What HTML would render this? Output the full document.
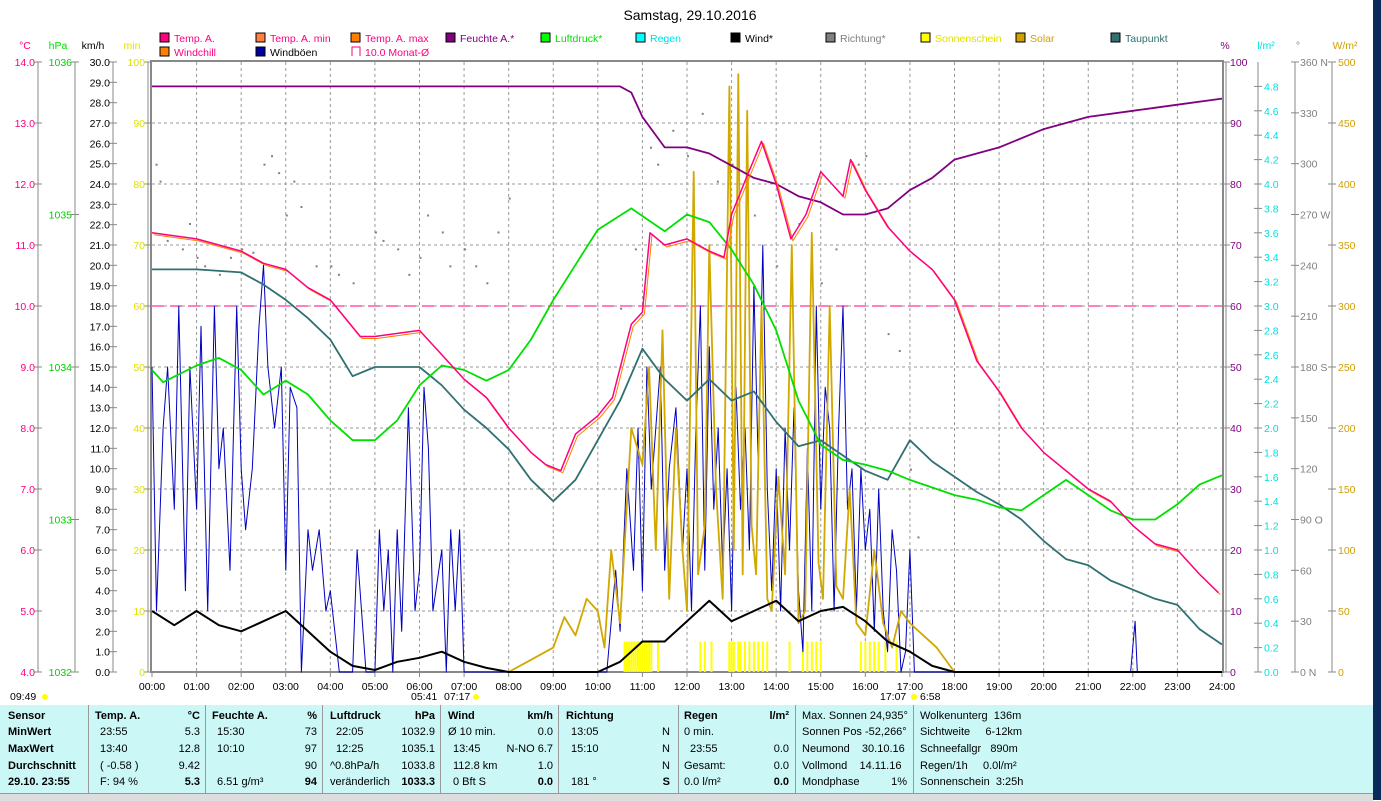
<!DOCTYPE html>
<html><head><meta charset="utf-8">
<style>
body{margin:0;width:1381px;height:800px;overflow:hidden;background:#fff;font-family:"Liberation Sans",sans-serif;}
#chart{position:absolute;left:0;top:0;}
#tbl{position:absolute;left:0;top:705px;width:1373px;height:88px;background:#ccf7f7;font-size:11px;}
#tbl .c{position:absolute;top:0;height:88px;border-right:1px solid #999;}
#tbl .t{position:absolute;white-space:nowrap;}
#tbl b{font-weight:bold}
#foot{position:absolute;left:0;top:793px;width:1373px;height:7px;background:#ddd;border-top:1px solid #999;}
#edge{position:absolute;left:1373px;top:0;width:8px;height:800px;background:#0a2a5a;}
</style></head><body>
<svg id="chart" width="1381" height="800"></svg>
<div id="tbl"></div>
<div id="foot"></div>
<div id="edge"></div>
<script>
// ---------- DATA ----------
const tempT=[0,1,2,2.5,3,3.5,4,4.67,5,6,6.5,7,7.5,8,8.5,8.83,9.17,9.5,10,10.33,10.75,11,11.17,11.5,12,12.5,12.83,13,13.33,13.67,14,14.33,14.67,15,15.5,15.67,16,16.5,17,17.5,18,18.5,19,19.5,20,21,21.5,22,22.5,23,23.5,23.92];
const tempV=[11.2,11.1,10.9,10.7,10.6,10.3,10.1,9.5,9.5,9.6,9.2,8.8,8.5,8.0,7.6,7.4,7.3,7.9,8.2,8.5,9.7,9.9,11.2,11.0,11.1,10.9,10.8,11.5,12.1,12.7,12.0,11.1,11.5,12.2,11.8,12.4,11.9,11.3,10.9,10.6,10.1,9.1,8.6,8.0,7.6,7.0,6.8,6.4,6.1,6.0,5.6,5.3];
const humT=[0,10.5,10.75,11,11.5,12,12.5,13,13.5,14,14.5,15,15.5,16,16.5,17,17.5,18,19,20,21,22,23,24];
const humV=[96,96,95,91,86,86,85,83,81,80,78,77,75,75,76,79,81,84,86,89,91,92,93,94];
const presT=[0,0.25,1,1.5,2,2.5,3,3.5,4,4.5,5,5.5,6,6.5,7,7.5,8,8.5,9,9.5,10,10.75,11.5,12,12.5,13,13.5,14,14.5,15,15.5,16,16.5,17,17.5,18,18.5,19,19.5,20,20.5,21,21.5,22,22.5,23,23.5,24];
const presV=[1033.98,1033.9,1034.01,1034.06,1033.98,1033.82,1033.91,1033.82,1033.65,1033.52,1033.52,1033.65,1033.88,1034.01,1033.98,1033.91,1033.98,1034.18,1034.44,1034.67,1034.9,1035.04,1034.89,1035.0,1034.95,1034.77,1034.54,1034.24,1033.78,1033.49,1033.39,1033.36,1033.32,1033.26,1033.21,1033.16,1033.13,1033.08,1033.06,1033.16,1033.26,1033.16,1033.06,1033.0,1033.0,1033.1,1033.23,1033.29];
const dewT=[0,1,2,2.5,3,3.5,4,4.5,5,5.5,6,6.5,7,7.5,8,8.5,9,9.5,10,10.5,11,11.5,12,12.5,13,13.5,14,14.5,15,15.5,16,16.5,17,17.5,18,18.5,19,19.5,20,20.5,21,21.5,22,22.5,23,23.5,24];
const dewV=[10.6,10.6,10.55,10.35,10.1,9.8,9.45,8.85,9.0,9.0,9.0,8.7,8.3,8.0,7.65,7.15,6.8,7.15,7.8,8.45,9.3,8.8,8.45,8.8,8.45,8.6,8.1,7.7,7.8,7.55,7.3,7.15,7.8,7.45,7.2,6.95,6.75,6.5,6.15,5.85,5.75,5.5,5.35,5.2,5.1,4.7,4.45];
const windT=[0,0.5,1,1.5,2,2.5,3,3.5,4,4.5,5,5.5,6,6.5,7,7.5,8,10,10.5,11,11.5,12,12.5,13,13.5,14,14.5,15,15.5,16,16.5,17,17.5,18,24];
const windV=[3.0,2.3,3.0,2.3,2.0,2.5,3.0,2.0,1.0,0.3,0.1,0.5,0.7,1.0,0.5,0.2,0,0,0.5,1.5,1.5,2.5,3.5,2.5,3.0,3.5,2.5,3.0,3.2,2.5,1.5,1.0,0.3,0,0];
const gustT=[0,0.1,0.25,0.35,0.5,0.6,0.75,0.85,1,1.1,1.25,1.4,1.5,1.6,1.75,1.9,2,2.1,2.25,2.4,2.5,2.6,2.75,2.9,3,3.1,3.25,3.35,3.5,3.6,3.75,3.9,4,4.2,4.5,4.6,4.8,5,5.1,5.2,5.3,5.4,5.5,5.6,5.75,5.9,6,6.1,6.2,6.3,6.5,6.6,6.7,6.8,6.9,7,10.2,10.4,10.5,10.65,10.8,10.9,11,11.1,11.2,11.3,11.4,11.5,11.6,11.75,11.9,12,12.1,12.2,12.3,12.4,12.5,12.6,12.7,12.8,12.9,13,13.1,13.2,13.3,13.4,13.5,13.6,13.7,13.8,13.9,14,14.1,14.2,14.3,14.4,14.5,14.6,14.7,14.8,14.9,15,15.1,15.2,15.3,15.4,15.5,15.6,15.7,15.8,15.9,16,16.1,16.2,16.3,16.4,16.5,16.6,16.7,16.8,16.9,17,17.1,21.95,22.05,22.1];
const gustV=[15,3,12,15,8,18,4,15,8,17,3,18,10,12,5,18,10,7,10,17,20,15,12,15,5,14,13,0,7,5,7,3,4,0,0,6,0,0,7,3,6,0,7,2,13,3,5,14,11,3,6,0,7,3,7,0,0,5,2,10,5,12,4,15,9,12,15,5,10,13,6,10,3,12,18,5,16,8,12,5,10,3,14,8,12,6,19,10,21,9,4,10,3,12,6,13,4,1,11,3,18,8,14,12,3,12,18,8,10,3,10,6,8,2,9,3,1,7,5,0,1,6,0,0,2.5,0];
const solarT=[8,8.5,9,9.25,9.5,9.75,10,10.15,10.3,10.5,10.75,11,11.15,11.3,11.45,11.6,11.75,11.9,12,12.15,12.25,12.4,12.5,12.65,12.8,12.95,13.05,13.15,13.25,13.35,13.45,13.55,13.67,13.8,13.9,14.05,14.2,14.35,14.5,14.65,14.8,14.95,15.05,15.2,15.35,15.5,15.65,15.8,16,16.2,16.4,16.6,16.8,17,17.3,17.6,18];
const solarV=[0,10,20,45,30,60,50,20,100,40,200,170,250,100,280,60,200,100,50,410,80,120,350,150,60,480,100,490,80,460,120,80,300,60,50,160,80,350,40,50,360,90,60,300,70,60,150,40,30,100,40,20,50,40,30,20,0];
const sunT=[10.6,10.65,10.7,10.75,10.8,10.85,10.9,10.95,11.0,11.05,11.1,11.15,11.2,11.35,12.3,12.4,12.55,12.95,13.0,13.05,13.15,13.2,13.3,13.4,13.5,13.6,13.7,13.8,14.3,14.6,14.7,14.8,14.9,15.0,15.9,16.0,16.1,16.2,16.3,16.45,16.7];
const sunV=[5,5,5,5,5,5,5,5,5,5,5,5,5,5,5,5,5,5,5,5,5,5,5,5,5,5,5,5,5,5,5,5,5,5,5,5,5,5,5,5,5];
const dirT=[0.08,0.17,0.33,0.67,0.83,1,1.17,1.5,1.75,2,2.25,2.5,2.67,2.83,3,3.17,3.33,3.67,4,4.17,4.5,5,5.17,5.5,5.75,6,6.17,6.5,6.67,7,7.25,7.5,7.75,8,10.5,10.83,11.17,11.33,11.67,12,12.33,12.67,13,13.5,14,14.5,15,15.33,15.83,16,16.5,16.75,17,17.17];
const dirV=[300,290,255,250,265,245,240,235,245,250,248,300,305,295,270,290,275,240,240,235,230,260,255,250,235,245,270,260,240,250,240,230,260,280,215,250,310,300,320,305,330,290,300,270,240,265,230,250,300,305,200,190,120,80];
const monthAvg=[10.0];
const hourLabels=["00:00","01:00","02:00","03:00","04:00","05:00","06:00","07:00","08:00","09:00","10:00","11:00","12:00","13:00","14:00","15:00","16:00","17:00","18:00","19:00","20:00","21:00","22:00","23:00","24:00"];

// ---------- SCALES ----------
const L=152,R=1222,T=62,B=672;
const X=h=>L+h*(R-L)/24;
const yT=v=>B-(v-4)/10*(B-T);
const yP=v=>B-(v-1032)/4*(B-T);
const yPct=v=>B-v/100*(B-T);
const yK=v=>B-v/30*(B-T);
const yW=v=>B-v/500*(B-T);
const yD=v=>B-v/360*(B-T);
const svg=document.getElementById('chart');
const NS='http://www.w3.org/2000/svg';
function el(tag,attrs,parent){const e=document.createElementNS(NS,tag);for(const k in attrs)e.setAttribute(k,attrs[k]);(parent||svg).appendChild(e);return e;}
function txt(x,y,s,fill,anchor,size){const e=el('text',{x:x,y:y,fill:fill,'font-size':size||10.5,'text-anchor':anchor||'start','font-family':'Liberation Sans, sans-serif'});e.textContent=s;return e;}
function line(ts,vs,sc,color,w,name,dx,dy){let d='';ts.forEach((t,i)=>{d+=(i?'L':'M')+(X(t)+(dx||0)).toFixed(1)+','+(sc(vs[i])+(dy||0)).toFixed(1);});const p=el('path',{d:d,fill:'none',stroke:color,'stroke-width':w,'stroke-linejoin':'round'});


return p;}

let e=txt(690,20,'Samstag, 29.10.2016','#000','middle',14);



const legItems=[["Temp. A.","#ff0080","#ff0080",160,42],["Temp. A. min","#ff0080","#ff8040",256,42],["Temp. A. max","#ff0080","#ff8000",351,42],["Feuchte A.*","#800080","#800080",446,42],["Luftdruck*","#00e000","#00ff00",541,42],["Regen","#00e0e0","#00ffff",636,42],["Wind*","#000","#000",731,42],["Richtung*","#808080","#808080",826,42],["Sonnenschein","#e0e000","#ffff00",921,42],["Solar","#d0a000","#d0a000",1016,42],["Taupunkt","#307070","#307070",1111,42],["Windchill","#ff0080","#ff8000",160,56],["Windböen","#000","#0000a0",256,56]];
legItems.forEach(it=>{const g=el('g',{});


el('rect',{x:it[3],y:it[4]-9,width:9,height:9,fill:it[2],stroke:'#000','stroke-width':1},g);
const t=txt(it[3]+14,it[4],it[0],it[1]);g.appendChild(t);});
{const g=el('g',{});


el('path',{d:'M352,56V47H360V56',fill:'none',stroke:'#ff0080'},g);g.appendChild(txt(365,56,'10.0 Monat-Ø','#ff0080'));}

[['°C',25,'#ff0080'],['hPa',58,'#00e000'],['km/h',93,'#000'],['min',132,'#e0e000'],['%',1225,'#800080'],['l/m²',1266,'#00e0e0'],['°',1298,'#808080'],['W/m²',1345,'#d0a000']].forEach(u=>{const t=txt(u[1],49,u[0],u[2],'middle');

});

const grid=el('g',{});


for(let h=1;h<24;h++)el('line',{x1:X(h),x2:X(h),y1:T,y2:B,stroke:'#999','stroke-dasharray':'3,3','stroke-width':1},grid);
for(let i=1;i<10;i++){const y=T+i*(B-T)/10;el('line',{x1:L,x2:R,y1:y,y2:y,stroke:'#999','stroke-dasharray':'3,3','stroke-width':1},grid);}
el('rect',{x:L-1,y:T-1,width:R-L+2,height:B-T+1,fill:'none',stroke:'#888','stroke-width':2},grid);

function vaxis(x,vals,sc,fmt,color,name,side,lx){const g=el('g',{});


el('line',{x1:x,x2:x,y1:T,y2:B,stroke:'#888'},g);
vals.forEach(v=>{const y=sc(v);el('line',{x1:x-4,x2:x+4,y1:y,y2:y,stroke:'#888'},g);const t=txt(lx,y+4,fmt(v),color,side==='L'?'end':'start');g.appendChild(t);});}
const cT=[];for(let v=4;v<=14;v++)cT.push(v);
vaxis(38,cT,yT,v=>v.toFixed(1),'#ff0080','celsius-axis','L',35);
vaxis(75,[1032,1033,1034,1035,1036],yP,v=>String(v),'#00d000','hpa-axis','L',72);
const kT=[];for(let v=0;v<=30;v++)kT.push(v);
vaxis(113,kT,yK,v=>v.toFixed(1),'#000','kmh-axis','L',110);
const mT=[];for(let v=0;v<=100;v+=10)mT.push(v);
vaxis(148,mT,yPct,v=>String(v),'#e0e000','minutes-axis','L',145);
vaxis(1226,mT,yPct,v=>String(v),'#800080','percent-axis','R',1230);
const rT=[];for(let v=0;v<=4.81;v+=0.2)rT.push(+v.toFixed(1));
vaxis(1258,rT,v=>B-v/5*(B-T),v=>v.toFixed(1),'#00e0e0','rain-axis','R',1264);
vaxis(1295,[0,30,60,90,120,150,180,210,240,270,300,330,360],yD,v=>({0:'0 N',90:'90 O',180:'180 S',270:'270 W',360:'360 N'})[v]||String(v),'#808080','direction-axis','R',1300);
const wT=[];for(let v=0;v<=500;v+=50)wT.push(v);
vaxis(1332,wT,yW,v=>String(v),'#d0a000','solar-axis','R',1338);

const xg=el('g',{});


hourLabels.forEach((s,i)=>{el('line',{x1:X(i),x2:X(i),y1:B,y2:B+5,stroke:'#888'},xg);xg.appendChild(txt(X(i),B+18,s,'#000','middle'));});
[['09:49',10,700],['05:41',411,700],['07:17',444,700],['17:07',880,700],['6:58',920,700]].forEach(a=>{const t=txt(a[1],a[2],a[0],'#000');

});
el('circle',{cx:45,cy:697,r:3,fill:'#ff0'});el('circle',{cx:476,cy:697,r:3,fill:'#ff0'});el('circle',{cx:914,cy:697,r:3,fill:'#ff0'});

const ma=el('line',{x1:L,x2:R,y1:yT(monthAvg[0]),y2:yT(monthAvg[0]),stroke:'#ff0080','stroke-dasharray':'12,6','stroke-width':1});



sunT.forEach((t,i)=>{const r=el('rect',{x:X(t)-1,y:yPct(sunV[i]),width:2,height:B-yPct(sunV[i]),fill:'#ffff00'});

});

dirT.forEach((t,i)=>{const c=el('rect',{x:X(t),y:yD(dirV[i]),width:2,height:2,fill:'#808080'});

});

line(gustT,gustV,yK,'#0000c0',1,'gust-line');
line(solarT,solarV,yW,'#d0a800',1.8,'solar-line');
line(windT,windV,yK,'#000',2,'wind-line');
line(dewT,dewV,yT,'#307070',1.8,'dewpoint-line');
line(presT,presV,yP,'#00e000',1.8,'pressure-line');
line(humT,humV,yPct,'#800080',1.8,'humidity-line');
line(tempT,tempV,yT,'#ff8000',1,'windchill-line',2,2);
line(tempT,tempV,yT,'#ff0080',1.5,'temperature-line');

const tb=document.getElementById('tbl');
[88,205,322,440,558,678,795,913].forEach(x=>{const d=document.createElement('div');d.className='c';d.style.left='0';d.style.width=(x)+'px';tb.appendChild(d);});
function cell(x,row,s,bold,align){const d=document.createElement('div');d.className='t';d.style.top=[5,21,38,55,71][row]+'px';
if(align==='r'){d.style.right=(1373-x)+'px';}else d.style.left=x+'px';
d.innerHTML=bold?'<b>'+s+'</b>':s;


tb.appendChild(d);}
['Sensor','MinWert','MaxWert','Durchschnitt','29.10. 23:55'].forEach((s,i)=>cell(8,i,s,true));
cell(95,0,'Temp. A.',true);cell(200,0,'°C',true,'r');
['23:55','13:40','( -0.58 )','F: 94 %'].forEach((s,i)=>cell(100,i+1,s));
['5.3','12.8','9.42'].forEach((s,i)=>cell(200,i+1,s,false,'r'));cell(200,4,'5.3',true,'r');
cell(212,0,'Feuchte A.',true);cell(317,0,'%',true,'r');
['15:30','10:10','','6.51 g/m³'].forEach((s,i)=>cell(217,i+1,s));
['73','97','90'].forEach((s,i)=>cell(317,i+1,s,false,'r'));cell(317,4,'94',true,'r');
cell(330,0,'Luftdruck',true);cell(435,0,'hPa',true,'r');
['22:05','12:25','^0.8hPa/h','veränderlich'].forEach((s,i)=>cell(i<2?336:330,i+1,s));
['1032.9','1035.1','1033.8'].forEach((s,i)=>cell(435,i+1,s,false,'r'));cell(435,4,'1033.3',true,'r');
cell(448,0,'Wind',true);cell(553,0,'km/h',true,'r');
['Ø 10 min.','13:45','112.8 km','0 Bft S'].forEach((s,i)=>cell(i===0?448:453,i+1,s));
['0.0','N-NO 6.7','1.0'].forEach((s,i)=>cell(553,i+1,s,false,'r'));cell(553,4,'0.0',true,'r');
cell(566,0,'Richtung',true);
['13:05','15:10','','181 °'].forEach((s,i)=>cell(571,i+1,s));
['N','N','N'].forEach((s,i)=>cell(670,i+1,s,false,'r'));cell(670,4,'S',true,'r');
cell(684,0,'Regen',true);cell(789,0,'l/m²',true,'r');
['0 min.',' 23:55','Gesamt:',' 0.0 l/m²'].forEach((s,i)=>cell(i===1?690:684,i+1,s));
['','0.0','0.0'].forEach((s,i)=>cell(789,i+1,s,false,'r'));cell(789,4,'0.0',true,'r');
['Max. Sonnen 24,935°','Sonnen Pos -52,266°','Neumond &nbsp;&nbsp; 30.10.16','Vollmond &nbsp;&nbsp; 14.11.16','Mondphase'].forEach((s,i)=>cell(802,i,s));
cell(907,4,'1%',false,'r');
['Wolkenunterg &nbsp;136m','Sichtweite &nbsp;&nbsp;&nbsp; 6-12km','Schneefallgr &nbsp;&nbsp;890m','Regen/1h &nbsp;&nbsp;&nbsp; 0.0l/m²','Sonnenschein &nbsp;3:25h'].forEach((s,i)=>cell(920,i,s));
</script>
</body></html>
